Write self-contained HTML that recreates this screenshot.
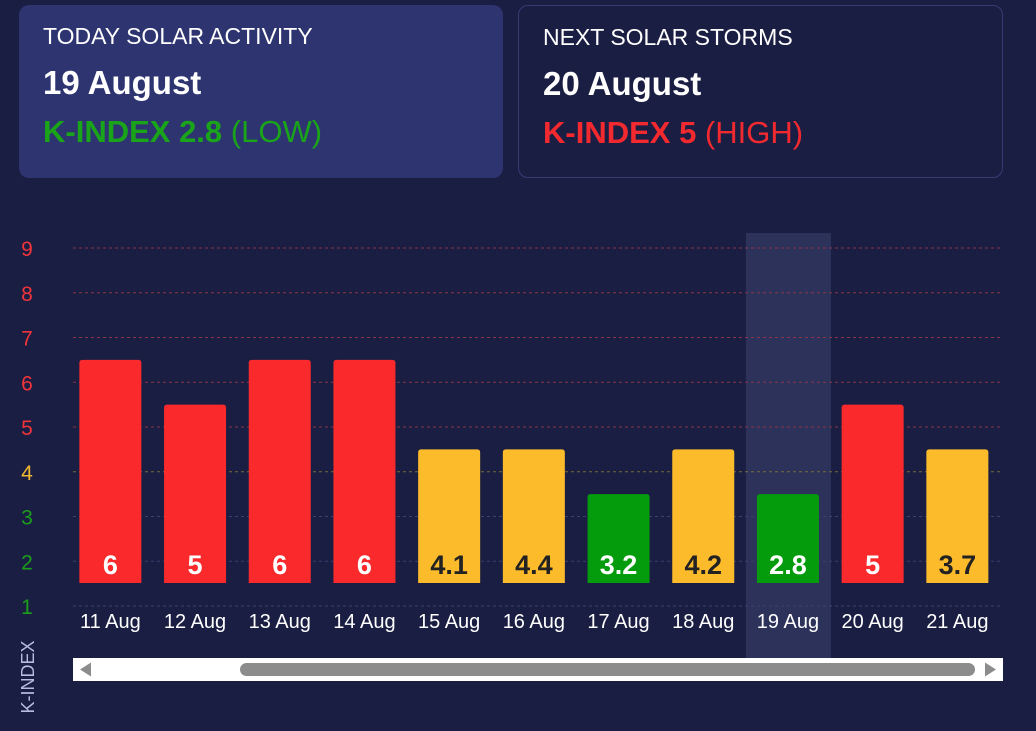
<!DOCTYPE html>
<html><head><meta charset="utf-8"><style>
body{margin:0;width:1036px;height:731px;background:#1b1e43;font-family:"Liberation Sans",sans-serif;overflow:hidden;position:relative}
.card{position:absolute;top:5px;height:173px;border-radius:10px;box-sizing:border-box;padding:16px 24px;color:#fff}
.t{font-size:23px;margin-top:2px}
.d{font-size:33px;font-weight:bold;margin-top:14px}
.k{font-size:31px;margin-top:12px}
</style></head><body>
<div class="card" style="left:19px;width:484px;background:#2d3470">
<div class="t">TODAY SOLAR ACTIVITY</div>
<div class="d">19 August</div>
<div class="k" style="color:#1aa41a"><b>K-INDEX 2.8</b> (LOW)</div>
</div>
<div class="card" style="left:518px;width:485px;border:1px solid #363c73">
<div class="t">NEXT SOLAR STORMS</div>
<div class="d">20 August</div>
<div class="k" style="color:#f22a2f"><b>K-INDEX 5</b> (HIGH)</div>
</div>
<svg id="c" width="1036" height="731" style="position:absolute;left:0;top:0"></svg>
<script>
const categories=["11 Aug","12 Aug","13 Aug","14 Aug","15 Aug","16 Aug","17 Aug","18 Aug","19 Aug","20 Aug","21 Aug"];
const values=[6,5,6,6,4.1,4.4,3.2,4.2,2.8,5,3.7];
const yTicks=[1,2,3,4,5,6,7,8,9];
const highlightIndex=8;
const svg=document.getElementById('c');const NS='http://www.w3.org/2000/svg';
function mk(t,a,p){const e=document.createElementNS(NS,t);for(const k in a)e.setAttribute(k,a[k]);(p||svg).appendChild(e);return e;}
const y=v=>606-(v-1)*44.75;
const x0=73,step=84.7;
const xc=i=>x0+step*(i+0.5)-5;
function col(v){const r=Math.round(v);return r>=5?'#fa292c':r>=4?'#fbbb2b':'#049c0c';}
function tcol(v){return v>=5?'#f0343a':v>=4?'#f0b731':'#1a9e1a';}
// highlight
let h=mk('rect',{x:xc(highlightIndex)-42,y:233,width:85,height:425,fill:'#2c325a'});

yTicks.forEach(v=>{
 let l=mk('line',{x1:73,x2:1003,y1:y(v),y2:y(v),stroke:v>=5?'#8a3445':v==4?'#7a6a3a':'#3b4070','stroke-dasharray':'3,3','stroke-width':1});
 
 let t=mk('text',{x:27,y:y(v)+8,'text-anchor':'middle','font-size':21,fill:tcol(v)});t.textContent=v;
 
});
values.forEach((v,i)=>{
 const top=y(Math.round(v)+0.5),bot=583;
 let b=mk('path',{d:`M${xc(i)-31},${bot}V${top+3}q0,-3 3,-3h56q3,0 3,3V${bot}Z`,fill:col(v)});
 
 let t=mk('text',{x:xc(i),y:574,'text-anchor':'middle','font-size':27,'font-weight':'bold',fill:Math.round(v)==4?'#222':'#fff'});t.textContent=v;
 
 let c=mk('text',{x:xc(i),y:628,'text-anchor':'middle','font-size':20,fill:'#fff'});c.textContent=categories[i];
 
});
let yt=mk('text',{x:34,y:677,'text-anchor':'middle','font-size':18,fill:'#b8bce0',transform:'rotate(-90 34 677)'});yt.textContent='K-INDEX';

let sb=mk('rect',{x:73,y:658,width:930,height:23,fill:'#fff'});

let th=mk('rect',{x:240,y:663,width:735,height:13,rx:6.5,fill:'#8c8c8c'});

let la=mk('path',{d:'M80,669.5l11,-7v14z',fill:'#8c8c8c'});

let ra=mk('path',{d:'M996,669.5l-11,-7v14z',fill:'#8c8c8c'});

</script>
</body></html>
